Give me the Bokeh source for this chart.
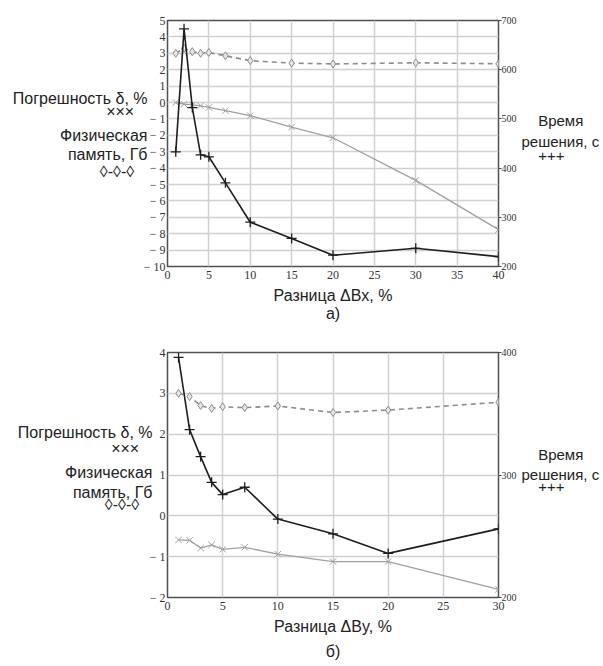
from bokeh.plotting import figure
from bokeh.models import (Range1d, LinearAxis, FixedTicker, CustomJSTickFormatter)
from bokeh.layouts import column
from bokeh.embed import file_html
from bokeh.resources import INLINE

# ---------------- data: chart a) ----------------
dx_a = [1, 2, 3, 4, 5, 7, 10, 15, 20, 30, 40]
err_a = [0.0, -0.1, -0.15, -0.2, -0.3, -0.5, -0.8, -1.5, -2.15, -4.75, -7.75]
mem_a = [3.0, 3.3, 3.1, 3.0, 3.05, 2.85, 2.55, 2.4, 2.35, 2.42, 2.36]
time_a = [433, 683, 523, 427, 423, 370, 290, 257, 223, 237, 220]

# ---------------- data: chart b) ----------------
dx_b = [1, 2, 3, 4, 5, 7, 10, 15, 20, 30]
err_b = [-0.59, -0.6, -0.79, -0.71, -0.82, -0.77, -0.94, -1.12, -1.12, -1.8]
mem_b = [3.0, 2.92, 2.7, 2.63, 2.67, 2.65, 2.69, 2.53, 2.59, 2.78]
time_b = [396, 337, 315, 294, 284, 290, 264, 252, 236, 256]

x_ticks_a = [0, 5, 10, 15, 20, 25, 30, 35, 40]
left_ticks_a = list(range(-10, 6))
right_ticks_a = [200, 300, 400, 500, 600, 700]
x_ticks_b = [0, 5, 10, 15, 20, 25, 30]
left_ticks_b = list(range(-2, 5))
right_ticks_b = [200, 300, 400]

label_err = "Погрешность δ, %"
label_mem = ["Физическая", "память, Гб"]
label_time = ["Время", "решения, с"]
xlabel_a = "Разница ΔBx, %"
xlabel_b = "Разница ΔBy, %"
caption_a = "а)"
caption_b = "б)"

SANS = "Liberation Sans"
SERIF = "Liberation Serif"
BLACK = "#1e1e1e"
GRAY_ERR = "#a0a0a0"
GRAY_MEM = "#8c8c8c"
GRID = "#d0d0d0"
NB = "\u00a0"


def minus_fmt():
    return CustomJSTickFormatter(
        code="return tick < 0 ? '\u2212 ' + Math.abs(tick) : tick.toString();")


def no_ticks(ax):
    ax.axis_line_color = None
    ax.major_tick_line_color = None
    ax.minor_tick_line_color = None
    ax.major_tick_out = 0
    ax.major_tick_in = 0
    ax.minor_tick_out = 0
    ax.minor_tick_in = 0


def style_text_axis(ax, size="16px"):
    no_ticks(ax)
    ax.major_label_text_font = SANS
    ax.major_label_text_font_size = size
    ax.major_label_text_color = "#222222"


def make_chart(xs, err, mem, tm, xr, yl, yr, xt, ylt, yrt, xlabel, caption,
               H, frame_top, frame_bottom, frame_left, frame_right,
               left_pos, right_pos, left_shift, cap_lh):
    W = 603
    p = figure(width=W, height=H, output_backend="svg", toolbar_location=None,
               x_range=Range1d(*xr), y_range=Range1d(*yl),
               min_border_left=frame_left, min_border_right=W - frame_right,
               min_border_top=frame_top, min_border_bottom=H - frame_bottom)
    # "time" = right value axis; "pix" = vertical position of side texts (px from figure top)
    p.extra_y_ranges = {"time": Range1d(*yr),
                        "pix": Range1d(start=frame_bottom, end=frame_top)}
    p.outline_line_color = "#505050"
    p.outline_line_width = 1.5

    p.xaxis.ticker = FixedTicker(ticks=xt)
    p.yaxis.ticker = FixedTicker(ticks=ylt)
    p.yaxis.formatter = minus_fmt()
    for ax in (p.xaxis[0], p.yaxis[0]):
        no_ticks(ax)
        ax.major_label_text_font = SERIF
        ax.major_label_text_font_size = "12px"
        ax.major_label_text_color = "#333333"
    p.yaxis.major_label_standoff = 2
    p.xaxis.major_label_standoff = 4
    p.xaxis.axis_label = xlabel + "\n" + caption
    p.xaxis.axis_label_text_font = SANS
    p.xaxis.axis_label_text_font_size = "16px"
    p.xaxis.axis_label_text_font_style = "normal"
    p.xaxis.axis_label_text_color = "#222222"
    p.xaxis.axis_label_text_line_height = cap_lh
    p.xaxis.axis_label_standoff = 5

    p.xgrid.grid_line_color = GRID
    p.ygrid.grid_line_color = GRID
    p.xgrid.grid_line_width = 1.5
    p.ygrid.grid_line_width = 1.5

    # right value axis
    rax = LinearAxis(y_range_name="time", ticker=FixedTicker(ticks=yrt))
    rax.axis_line_color = None
    rax.major_tick_line_color = "#444444"
    rax.major_tick_in = 0
    rax.major_tick_out = 3
    rax.minor_tick_line_color = None
    rax.minor_tick_out = 0
    rax.minor_tick_in = 0
    rax.major_label_text_font = SERIF
    rax.major_label_text_font_size = "10px"
    rax.major_label_text_color = "#333333"
    rax.major_label_standoff = 0
    p.add_layout(rax, "right")

    # side texts (series names and line samples)
    lt = list(left_pos)
    lax = LinearAxis(y_range_name="pix", ticker=FixedTicker(ticks=lt),
                     major_label_overrides={
                         lt[0]: label_err,
                         lt[1]: "×××" + NB * 3,
                         lt[2]: label_mem[0],
                         lt[3]: label_mem[1],
                         lt[4]: "◊-◊-◊" + NB * 3})
    style_text_axis(lax)
    lax.major_label_standoff = left_shift
    p.add_layout(lax, "left")

    rt = list(right_pos)
    tax = LinearAxis(y_range_name="pix", ticker=FixedTicker(ticks=rt),
                     major_label_overrides={
                         rt[0]: NB * 4 + label_time[0],
                         rt[1]: label_time[1],
                         rt[2]: NB * 4 + "+++"})
    style_text_axis(tax, "15px")
    tax.major_label_standoff = 2
    p.add_layout(tax, "right")

    # memory (dashed, diamonds)
    p.line(xs, mem, line_color=GRAY_MEM, line_width=1.6, line_dash="5 4")
    p.scatter(xs, mem, marker="diamond", size=8, line_color=GRAY_MEM,
              fill_color="#e6e6e6", line_width=1)
    # error (solid light gray, x)
    p.line(xs, err, line_color=GRAY_ERR, line_width=1.3)
    p.scatter(xs, err, marker="x", size=9, line_color=GRAY_ERR, line_width=1)
    # time (black, +) on right axis
    p.line(xs, tm, y_range_name="time", line_color=BLACK, line_width=1.6)
    p.scatter(xs, tm, y_range_name="time", marker="cross", size=10,
              line_color=BLACK, line_width=1.3)
    return p


pa = make_chart(dx_a, err_a, mem_a, time_a, (0, 40), (-10, 5), (200, 700),
                x_ticks_a, left_ticks_a, right_ticks_a, xlabel_a, caption_a,
                333, 20, 266, 167, 499,
                (98, 111, 135, 154, 171), (120, 141, 155), -7, 1.1)
pb = make_chart(dx_b, err_b, mem_b, time_b, (0, 30), (-2, 4), (200, 400),
                x_ticks_b, left_ticks_b, right_ticks_b, xlabel_b, caption_b,
                333, 19, 264, 167, 498,
                (99, 115, 139, 159, 171), (121, 141, 153), -6, 1.5)

layout = column(pa, pb, spacing=0)
open("out.html", "w").write(file_html(layout, INLINE))
